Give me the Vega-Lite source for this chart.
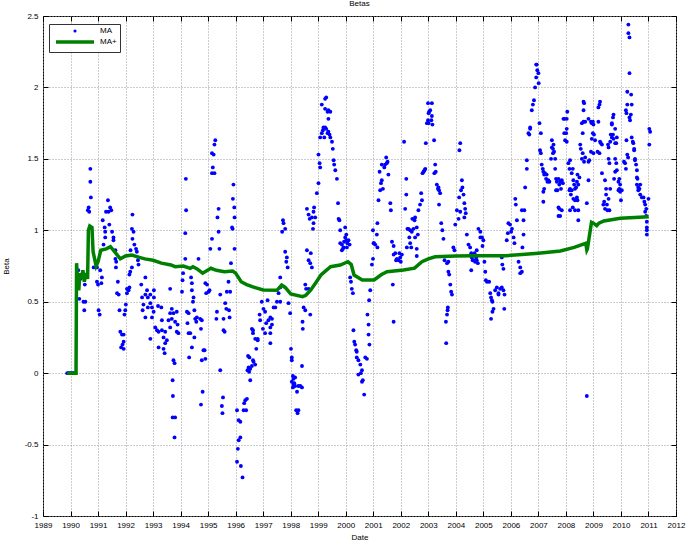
{
"$schema":"https://vega.github.io/schema/vega-lite/v6.json",
"width":633,"height":500,
"autosize":{"type":"none"},
"padding":{"left":43,"top":16,"right":11,"bottom":26},
"background":"white",
"title":{"text":"Betas","fontSize":8,"fontWeight":"normal","font":"Liberation Sans","offset":4,"color":"#000"},
"config":{
"view":{"stroke":"#000","strokeWidth":1},
"axis":{"labelFont":"Liberation Sans","labelFontSize":8,"labelColor":"#000","labelFlush":false,"labelOverlap":false,"titleFont":"Liberation Sans","titleFontSize":8,"titleFontWeight":"normal","titleColor":"#000","domain":false,"tickColor":"#000","tickSize":-5,"gridColor":"#999","gridDash":[1,2],"gridOpacity":1}
},
"datasets":{
"ma":[
{"t":1989.88,"b":0},{"t":1989.93,"b":0},{"t":1989.98,"b":0},{"t":1990.03,"b":0},{"t":1990.08,"b":0},{"t":1990.13,"b":0},{"t":1990.18,"b":0},
{"t":1990.28,"b":0.72},{"t":1990.36,"b":0.66},{"t":1990.44,"b":0.7},{"t":1990.52,"b":0.62},{"t":1990.58,"b":0.68},
{"t":1990.72,"b":1.43},{"t":1990.72,"b":1.34},{"t":1990.74,"b":1.23},{"t":1990.66,"b":1.16},{"t":1990.63,"b":1.14},{"t":1990.68,"b":1.13},
{"t":1991.36,"b":1.21},{"t":1991.44,"b":1.16},{"t":1991.38,"b":1.13},{"t":1991.29,"b":1.13},{"t":1991.48,"b":1.14},{"t":1991.17,"b":1.07},{"t":1991.24,"b":1.02},{"t":1991.41,"b":1.04},{"t":1991.26,"b":0.99},{"t":1991.51,"b":0.99},{"t":1991.56,"b":0.95},{"t":1991.56,"b":0.93},{"t":1991.26,"b":0.95},
{"t":1992.25,"b":1.11},{"t":1992.23,"b":1.01},{"t":1992.29,"b":0.99},{"t":1992.25,"b":0.94},{"t":1992.32,"b":0.9},{"t":1992.38,"b":0.87},{"t":1992.41,"b":0.85},{"t":1992.18,"b":0.86},
{"t":1991.2,"b":0.9},{"t":1991.63,"b":0.86},
{"t":1990.84,"b":0.74},{"t":1990.96,"b":0.74},{"t":1991.08,"b":0.72},{"t":1991.14,"b":0.67},{"t":1991.12,"b":0.63},{"t":1990.96,"b":0.64},{"t":1991.0,"b":0.62},
{"t":1991.72,"b":0.64},{"t":1991.69,"b":0.56},{"t":1991.75,"b":0.55},
{"t":1990.32,"b":0.52},{"t":1990.47,"b":0.5},{"t":1990.54,"b":0.5},{"t":1990.5,"b":0.44},
{"t":1991.02,"b":0.44},{"t":1991.06,"b":0.41},
{"t":1991.63,"b":0.8},{"t":1991.66,"b":0.78},{"t":1991.65,"b":0.74},
{"t":1992.05,"b":0.59},{"t":1992.05,"b":0.56},{"t":1992.11,"b":0.58},{"t":1992.14,"b":0.6},{"t":1992.17,"b":0.71},{"t":1992.23,"b":0.74},{"t":1992.14,"b":0.69},
{"t":1992.01,"b":0.48},{"t":1991.99,"b":0.44},{"t":1991.96,"b":0.41},{"t":1991.78,"b":0.44},
{"t":1991.81,"b":0.29},{"t":1991.87,"b":0.27},{"t":1991.93,"b":0.27},{"t":1991.93,"b":0.22},{"t":1991.89,"b":0.2},{"t":1991.84,"b":0.18},{"t":1991.93,"b":0.17},
{"t":1992.45,"b":0.79},{"t":1992.47,"b":0.76},
{"t":1992.57,"b":0.62},{"t":1992.72,"b":0.67},{"t":1992.78,"b":0.58},{"t":1992.72,"b":0.55},{"t":1992.6,"b":0.53},{"t":1992.81,"b":0.53},{"t":1992.9,"b":0.55},{"t":1993.03,"b":0.58},{"t":1993.03,"b":0.53},
{"t":1992.65,"b":0.48},{"t":1992.9,"b":0.49},{"t":1992.96,"b":0.46},{"t":1992.81,"b":0.46},{"t":1992.62,"b":0.44},{"t":1992.72,"b":0.39},{"t":1992.96,"b":0.39},{"t":1993.02,"b":0.43},
{"t":1993.08,"b":0.32},{"t":1993.14,"b":0.3},{"t":1993.2,"b":0.29},{"t":1993.32,"b":0.3},{"t":1993.44,"b":0.29},{"t":1993.32,"b":0.37},{"t":1993.56,"b":0.37},{"t":1993.62,"b":0.42},{"t":1993.68,"b":0.38},{"t":1993.3,"b":0.46},{"t":1993.18,"b":0.47},
{"t":1992.9,"b":0.24},{"t":1993.38,"b":0.25},{"t":1993.5,"b":0.23},{"t":1993.44,"b":0.21},{"t":1993.2,"b":0.18},{"t":1993.38,"b":0.17},{"t":1993.42,"b":0.14},
{"t":1993.74,"b":0.09},{"t":1993.78,"b":0.07},{"t":1993.71,"b":-0.05},{"t":1993.72,"b":-0.16},{"t":1993.71,"b":-0.31},{"t":1993.78,"b":-0.45},
{"t":1995.26,"b":1.63},{"t":1995.23,"b":1.6},{"t":1995.14,"b":1.54},{"t":1995.2,"b":1.53},{"t":1995.17,"b":1.44},{"t":1995.14,"b":1.4},{"t":1995.23,"b":1.4},
{"t":1994.19,"b":1.36},{"t":1994.2,"b":1.14},{"t":1994.17,"b":0.98},{"t":1994.17,"b":0.8},{"t":1994.09,"b":0.7},{"t":1994.07,"b":0.65},{"t":1994.05,"b":0.57},
{"t":1993.62,"b":0.59},{"t":1993.68,"b":0.45},{"t":1993.74,"b":0.42},{"t":1993.86,"b":0.43},{"t":1993.62,"b":0.32},{"t":1993.8,"b":0.36},{"t":1993.89,"b":0.34},{"t":1993.86,"b":0.29},{"t":1993.92,"b":0.28},
{"t":1993.8,"b":-0.31},
{"t":1994.38,"b":0.67},{"t":1994.41,"b":0.63},{"t":1994.41,"b":0.58},{"t":1994.47,"b":0.53},{"t":1994.45,"b":0.5},
{"t":1994.23,"b":0.43},{"t":1994.29,"b":0.42},{"t":1994.25,"b":0.35},{"t":1994.35,"b":0.28},{"t":1994.29,"b":0.28},{"t":1994.5,"b":0.44},{"t":1994.53,"b":0.38},{"t":1994.57,"b":0.36},{"t":1994.59,"b":0.39},{"t":1994.71,"b":0.38},{"t":1994.77,"b":0.37},{"t":1994.74,"b":0.31},{"t":1994.5,"b":0.25},{"t":1994.41,"b":0.18},{"t":1994.31,"b":0.11},
{"t":1994.65,"b":0.8},
{"t":1994.9,"b":0.63},{"t":1994.96,"b":0.62},{"t":1995.02,"b":0.57},{"t":1994.93,"b":0.56},{"t":1995.05,"b":0.58},
{"t":1994.83,"b":0.16},{"t":1994.77,"b":0.09},{"t":1994.9,"b":0.1},{"t":1994.87,"b":0.16},
{"t":1994.8,"b":-0.13},{"t":1994.74,"b":-0.22},
{"t":1995.08,"b":0.87},{"t":1995.14,"b":0.94},{"t":1995.41,"b":0.87},{"t":1995.38,"b":0.99},{"t":1995.38,"b":1.15},{"t":1995.34,"b":1.09},
{"t":1995.32,"b":0.43},{"t":1995.3,"b":0.38},{"t":1995.44,"b":0.55},{"t":1995.56,"b":0.3},{"t":1995.6,"b":0.29},{"t":1995.62,"b":0.49},{"t":1995.66,"b":0.45},{"t":1995.76,"b":0.44},{"t":1995.78,"b":0.39},{"t":1995.68,"b":0.57},{"t":1995.74,"b":0.64},{"t":1995.8,"b":0.57},{"t":1995.56,"b":0.38},
{"t":1995.44,"b":0.02},{"t":1995.54,"b":-0.17},{"t":1995.5,"b":-0.23},{"t":1995.52,"b":-0.28},
{"t":1995.92,"b":1.32},{"t":1995.9,"b":1.22},{"t":1995.95,"b":1.16},{"t":1995.96,"b":1.09},{"t":1995.87,"b":1.02},{"t":1995.89,"b":1.01},{"t":1995.96,"b":0.87},{"t":1995.83,"b":0.77},
{"t":1996.05,"b":-0.26},{"t":1996.11,"b":-0.33},{"t":1996.17,"b":-0.34},{"t":1996.29,"b":-0.26},{"t":1996.35,"b":-0.19},{"t":1996.41,"b":-0.18},{"t":1996.31,"b":-0.21},{"t":1996.38,"b":-0.26},
{"t":1996.17,"b":-0.45},{"t":1996.11,"b":-0.47},{"t":1996.08,"b":-0.53},{"t":1996.05,"b":-0.62},{"t":1996.19,"b":-0.65},{"t":1996.25,"b":-0.73},
{"t":1996.45,"b":0.12},{"t":1996.5,"b":0.11},{"t":1996.47,"b":0.04},{"t":1996.53,"b":0.03},{"t":1996.43,"b":0.02},{"t":1996.49,"b":0.01},{"t":1996.59,"b":0.05},{"t":1996.65,"b":0.08},{"t":1996.71,"b":0.06},{"t":1996.63,"b":0.09},{"t":1996.53,"b":-0.05},
{"t":1996.59,"b":0.31},{"t":1996.63,"b":0.28},{"t":1996.71,"b":0.24},{"t":1996.8,"b":0.23},{"t":1996.75,"b":0.17},{"t":1996.8,"b":0.24},{"t":1996.63,"b":0.3},
{"t":1996.87,"b":0.41},{"t":1996.89,"b":0.37},{"t":1996.95,"b":0.5},{"t":1997.01,"b":0.45},{"t":1997.07,"b":0.43},{"t":1997.16,"b":0.51},{"t":1996.99,"b":0.31},{"t":1997.07,"b":0.28},{"t":1997.11,"b":0.35},{"t":1997.19,"b":0.37},{"t":1997.26,"b":0.32},{"t":1997.26,"b":0.39},{"t":1997.32,"b":0.38},{"t":1997.32,"b":0.34},{"t":1997.38,"b":0.46},{"t":1997.44,"b":0.46},{"t":1997.5,"b":0.5},{"t":1997.56,"b":0.56},{"t":1997.62,"b":0.5},{"t":1997.62,"b":0.6},{"t":1997.62,"b":0.67},{"t":1997.26,"b":0.21},{"t":1997.26,"b":0.28},
{"t":1997.72,"b":1.07},{"t":1997.74,"b":1.05},{"t":1997.69,"b":0.99},{"t":1997.8,"b":1.01},{"t":1997.8,"b":0.85},{"t":1997.86,"b":0.81},{"t":1997.89,"b":0.74},{"t":1997.84,"b":0.78},
{"t":1997.92,"b":0.49},{"t":1998.01,"b":0.17},{"t":1998.04,"b":0.11},{"t":1998.08,"b":-0.02},{"t":1998.1,"b":-0.04},{"t":1998.13,"b":-0.07},{"t":1998.08,"b":-0.1},
{"t":1997.98,"b":0.42},{"t":1998.04,"b":0.09},{"t":1998.16,"b":-0.03},{"t":1998.04,"b":-0.06},{"t":1998.1,"b":-0.08},{"t":1998.16,"b":-0.09},{"t":1998.23,"b":-0.13},{"t":1998.28,"b":-0.09},{"t":1998.35,"b":-0.09},{"t":1998.41,"b":-0.1},{"t":1998.2,"b":-0.26},{"t":1998.25,"b":-0.28},{"t":1998.28,"b":-0.26},{"t":1998.41,"b":0.05},
{"t":1998.47,"b":0.46},{"t":1998.53,"b":0.44},{"t":1998.43,"b":0.36},{"t":1998.44,"b":0.31},{"t":1998.71,"b":0.41},
{"t":1998.53,"b":0.62},{"t":1998.56,"b":0.59},{"t":1998.65,"b":0.59},
{"t":1998.59,"b":0.86},{"t":1998.65,"b":0.79},{"t":1998.71,"b":0.77},{"t":1998.77,"b":0.74},{"t":1998.73,"b":0.84},
{"t":1998.59,"b":1.15},{"t":1998.65,"b":1.11},{"t":1998.69,"b":1.08},{"t":1998.77,"b":1.09},{"t":1998.83,"b":1.13},{"t":1998.85,"b":1.16},{"t":1998.89,"b":1.09},{"t":1998.83,"b":1.05},{"t":1998.81,"b":1.01},
{"t":1998.95,"b":1.26},{"t":1999.01,"b":1.33},{"t":1999.07,"b":1.44},{"t":1999.05,"b":1.47},{"t":1999.01,"b":1.53},
{"t":1999.07,"b":1.65},{"t":1999.13,"b":1.68},{"t":1999.17,"b":1.7},{"t":1999.19,"b":1.72},{"t":1999.25,"b":1.72},{"t":1999.29,"b":1.71},{"t":1999.22,"b":1.65},{"t":1999.34,"b":1.68},{"t":1999.44,"b":1.65},{"t":1999.37,"b":1.69},{"t":1999.41,"b":1.67},{"t":1999.5,"b":1.62},{"t":1999.37,"b":1.78},{"t":1999.37,"b":1.84},{"t":1999.34,"b":1.83},{"t":1999.13,"b":1.88},{"t":1999.25,"b":1.92},{"t":1999.29,"b":1.93},{"t":1999.25,"b":1.85},{"t":1999.44,"b":1.83},
{"t":1999.53,"b":1.57},{"t":1999.56,"b":1.49},{"t":1999.58,"b":1.46},{"t":1999.62,"b":1.42},{"t":1999.68,"b":1.36},
{"t":1999.72,"b":1.19},{"t":1999.74,"b":1.08},{"t":1999.77,"b":1.07},{"t":1999.8,"b":1.0},
{"t":1999.8,"b":0.91},{"t":1999.86,"b":0.9},{"t":1999.9,"b":0.87},{"t":1999.92,"b":0.88},{"t":1999.86,"b":0.86},{"t":1999.94,"b":0.92},{"t":1999.98,"b":0.95},{"t":2000.02,"b":0.93},{"t":2000.04,"b":0.88},{"t":2000.06,"b":0.91},{"t":2000.1,"b":0.93},{"t":2000.02,"b":0.97},{"t":2000.14,"b":0.9},{"t":1999.98,"b":1.02},
{"t":2000.16,"b":0.67},{"t":2000.19,"b":0.64},{"t":2000.22,"b":0.59},{"t":2000.26,"b":0.56},
{"t":2000.28,"b":0.3},{"t":2000.31,"b":0.22},{"t":2000.34,"b":0.2},{"t":2000.38,"b":0.16},{"t":2000.4,"b":0.15},{"t":2000.4,"b":0.11},{"t":2000.46,"b":0.09},{"t":2000.53,"b":0.06},{"t":2000.55,"b":0.0},{"t":2000.59,"b":0.02},{"t":2000.46,"b":-0.01},{"t":2000.62,"b":-0.05},{"t":2000.59,"b":-0.06},{"t":2000.67,"b":-0.15},
{"t":2000.79,"b":0.41},{"t":2000.83,"b":0.34},{"t":2000.83,"b":0.27},{"t":2000.86,"b":0.2},{"t":2000.77,"b":0.1},{"t":2000.71,"b":0.11},{"t":2000.85,"b":0.51},{"t":2000.89,"b":0.58},
{"t":2000.95,"b":0.76},{"t":2000.99,"b":0.8},{"t":2001.01,"b":0.91},{"t":2001.07,"b":0.9},{"t":2001.15,"b":0.88},{"t":2001.13,"b":0.97},{"t":2001.03,"b":0.91},{"t":2000.99,"b":1.0},{"t":2001.15,"b":1.05},
{"t":2001.19,"b":1.21},{"t":2001.25,"b":1.28},{"t":2001.28,"b":1.33},{"t":2001.35,"b":1.29},{"t":2001.31,"b":1.35},{"t":2001.23,"b":1.41},{"t":2001.31,"b":1.46},{"t":2001.43,"b":1.46},{"t":2001.49,"b":1.47},{"t":2001.52,"b":1.48},{"t":2001.47,"b":1.51},{"t":2001.4,"b":1.44},
{"t":2001.55,"b":1.39},{"t":2001.62,"b":1.19},{"t":2001.64,"b":1.14},
{"t":2001.68,"b":0.92},{"t":2001.74,"b":0.89},{"t":2001.74,"b":0.83},{"t":2001.83,"b":0.79},{"t":2001.8,"b":0.84},{"t":2001.86,"b":0.8},{"t":2001.92,"b":0.79},{"t":2001.98,"b":0.81},{"t":2002.0,"b":0.78},{"t":2001.95,"b":0.84},{"t":2002.04,"b":0.83},
{"t":2001.71,"b":0.62},{"t":2001.74,"b":0.36},
{"t":2002.12,"b":1.62},{"t":2002.2,"b":1.36},{"t":2002.2,"b":1.25},{"t":2002.16,"b":1.15},{"t":2002.24,"b":1.01},{"t":2002.31,"b":0.95},{"t":2002.22,"b":0.88},
{"t":2002.28,"b":1.01},{"t":2002.34,"b":1.0},{"t":2002.4,"b":0.99},{"t":2002.46,"b":1.01},{"t":2002.5,"b":1.07},{"t":2002.42,"b":1.08},{"t":2002.52,"b":1.09},{"t":2002.58,"b":1.02},{"t":2002.62,"b":0.97},{"t":2002.52,"b":0.95},{"t":2002.34,"b":0.91},{"t":2002.38,"b":0.88},{"t":2002.58,"b":0.87},{"t":2002.64,"b":1.14},{"t":2002.7,"b":1.18},{"t":2002.77,"b":1.21},{"t":2002.74,"b":1.26},{"t":2002.58,"b":0.82},
{"t":2002.83,"b":1.41},{"t":2002.86,"b":1.42},{"t":2002.89,"b":1.43},{"t":2002.79,"b":1.4},{"t":2002.91,"b":1.61},
{"t":2002.95,"b":1.75},{"t":2002.99,"b":1.77},{"t":2003.01,"b":1.82},{"t":2003.07,"b":1.84},{"t":2003.03,"b":1.83},{"t":2003.13,"b":1.8},{"t":2003.11,"b":1.77},{"t":2003.15,"b":1.74},{"t":2003.01,"b":1.75},{"t":2002.99,"b":1.89},{"t":2003.13,"b":1.89},
{"t":2003.21,"b":1.63},{"t":2003.22,"b":1.4},{"t":2003.27,"b":1.41},{"t":2003.25,"b":1.46},
{"t":2003.31,"b":1.32},{"t":2003.35,"b":1.29},{"t":2003.39,"b":1.28},{"t":2003.43,"b":1.26},{"t":2003.37,"b":1.3},{"t":2003.39,"b":1.18},
{"t":2003.47,"b":1.05},{"t":2003.51,"b":1.0},{"t":2003.55,"b":0.94},
{"t":2003.59,"b":0.79},{"t":2003.68,"b":0.77},{"t":2003.73,"b":0.71},{"t":2003.76,"b":0.69},{"t":2003.8,"b":0.62},{"t":2003.83,"b":0.57},{"t":2003.86,"b":0.55},{"t":2003.73,"b":0.78},
{"t":2003.71,"b":0.46},{"t":2003.7,"b":0.44},{"t":2003.68,"b":0.41},{"t":2003.64,"b":0.36},{"t":2003.65,"b":0.21},
{"t":2003.91,"b":0.88},{"t":2003.95,"b":0.86},{"t":2003.98,"b":1.04},{"t":2004.1,"b":1.08},{"t":2004.04,"b":1.14},{"t":2004.16,"b":1.13},{"t":2004.12,"b":1.23},{"t":2004.22,"b":1.35},{"t":2004.19,"b":1.28},{"t":2004.24,"b":1.3},{"t":2004.28,"b":1.25},{"t":2004.31,"b":1.19},{"t":2004.34,"b":1.15},{"t":2004.36,"b":1.12},{"t":2004.31,"b":1.09},
{"t":2004.16,"b":1.61},{"t":2004.13,"b":1.56},
{"t":2004.4,"b":0.97},{"t":2004.46,"b":0.9},{"t":2004.52,"b":0.88},{"t":2004.56,"b":0.84},{"t":2004.58,"b":0.81},{"t":2004.64,"b":0.79},{"t":2004.7,"b":0.78},{"t":2004.76,"b":0.79},{"t":2004.74,"b":0.81},{"t":2004.68,"b":0.84},{"t":2004.61,"b":0.79},{"t":2004.8,"b":0.77},{"t":2004.76,"b":0.86},{"t":2004.56,"b":0.72},
{"t":2004.82,"b":1.01},{"t":2004.89,"b":0.95},{"t":2004.95,"b":0.95},{"t":2005.0,"b":0.93},{"t":2004.97,"b":0.89},{"t":2004.89,"b":0.99},
{"t":2005.04,"b":0.78},{"t":2005.07,"b":0.71},{"t":2005.09,"b":0.65},{"t":2005.13,"b":0.64},{"t":2005.21,"b":0.64},
{"t":2005.25,"b":0.56},{"t":2005.28,"b":0.53},{"t":2005.31,"b":0.51},{"t":2005.33,"b":0.5},{"t":2005.37,"b":0.45},{"t":2005.33,"b":0.43},{"t":2005.28,"b":0.38},{"t":2005.43,"b":0.58},{"t":2005.49,"b":0.6},{"t":2005.55,"b":0.56},{"t":2005.61,"b":0.59},{"t":2005.55,"b":0.55},{"t":2005.67,"b":0.6},{"t":2005.73,"b":0.58},{"t":2005.77,"b":0.55},{"t":2005.76,"b":0.45},
{"t":2005.67,"b":0.81},{"t":2005.69,"b":0.76},{"t":2005.73,"b":0.73},
{"t":2005.85,"b":0.93},{"t":2005.89,"b":0.98},{"t":2005.91,"b":1.05},{"t":2005.97,"b":1.04},{"t":2006.04,"b":1.01},{"t":2006.1,"b":0.95},{"t":2006.13,"b":0.91},{"t":2006.01,"b":0.99},
{"t":2006.16,"b":1.22},{"t":2006.18,"b":1.18},{"t":2006.22,"b":1.07},
{"t":2006.28,"b":0.78},{"t":2006.34,"b":0.74},{"t":2006.34,"b":0.7},{"t":2006.4,"b":0.71},
{"t":2006.4,"b":1.14},{"t":2006.46,"b":1.07},{"t":2006.46,"b":0.97},{"t":2006.42,"b":0.88},
{"t":2006.52,"b":1.3},{"t":2006.58,"b":1.49},{"t":2006.64,"b":1.68},{"t":2006.67,"b":1.67},{"t":2006.7,"b":1.72},
{"t":2006.49,"b":1.14},{"t":2006.58,"b":1.43},{"t":2006.7,"b":1.71},{"t":2006.76,"b":1.84},{"t":2006.8,"b":1.88},{"t":2006.84,"b":1.91},{"t":2006.88,"b":2.0},{"t":2006.92,"b":2.07},{"t":2006.94,"b":2.16},{"t":2006.96,"b":2.12},{"t":2007.0,"b":2.1},{"t":2007.01,"b":2.03},{"t":2006.92,"b":2.16},
{"t":2007.04,"b":1.75},{"t":2007.09,"b":1.68},{"t":2007.06,"b":1.56},{"t":2007.09,"b":1.54},{"t":2007.12,"b":1.46},{"t":2007.16,"b":1.43},{"t":2007.18,"b":1.41},{"t":2007.21,"b":1.39},{"t":2007.24,"b":1.4},{"t":2007.3,"b":1.39},{"t":2007.28,"b":1.36},{"t":2007.33,"b":1.34},{"t":2007.36,"b":1.35},{"t":2007.4,"b":1.34},{"t":2007.21,"b":1.29},{"t":2007.18,"b":1.27},{"t":2007.18,"b":1.2},
{"t":2007.49,"b":1.58},{"t":2007.49,"b":1.63},{"t":2007.53,"b":1.57},{"t":2007.55,"b":1.6},{"t":2007.57,"b":1.55},{"t":2007.61,"b":1.5},{"t":2007.53,"b":1.54},{"t":2007.46,"b":1.5},{"t":2007.61,"b":1.43},{"t":2007.64,"b":1.36},{"t":2007.67,"b":1.34},{"t":2007.73,"b":1.36},{"t":2007.79,"b":1.34},{"t":2007.76,"b":1.32},{"t":2007.85,"b":1.35},{"t":2007.89,"b":1.33},{"t":2007.82,"b":1.29},{"t":2007.69,"b":1.28},{"t":2007.64,"b":1.28},
{"t":2007.73,"b":1.16},{"t":2007.76,"b":1.15},{"t":2007.85,"b":1.14},{"t":2007.73,"b":1.1},{"t":2007.79,"b":1.1},
{"t":2007.91,"b":1.78},{"t":2007.95,"b":1.78},{"t":2008.03,"b":1.78},{"t":2008.05,"b":1.83},{"t":2008.03,"b":1.71},{"t":2008.01,"b":1.68},{"t":2007.94,"b":1.68},{"t":2007.97,"b":1.63},{"t":2008.03,"b":1.62},
{"t":2008.09,"b":1.47},{"t":2008.15,"b":1.49},{"t":2008.13,"b":1.43},{"t":2008.21,"b":1.4},{"t":2008.25,"b":1.43},{"t":2008.15,"b":1.29},{"t":2008.21,"b":1.28},{"t":2008.18,"b":1.25},{"t":2008.13,"b":1.28},{"t":2008.27,"b":1.35},{"t":2008.3,"b":1.32},{"t":2008.33,"b":1.29},{"t":2008.37,"b":1.3},{"t":2008.4,"b":1.34},{"t":2008.42,"b":1.39},{"t":2008.49,"b":1.37},{"t":2008.45,"b":1.32},{"t":2008.4,"b":1.23},{"t":2008.42,"b":1.21},{"t":2008.33,"b":1.21},{"t":2008.27,"b":1.22},{"t":2008.25,"b":1.16},{"t":2008.15,"b":1.14},{"t":2008.33,"b":1.14},{"t":2008.45,"b":1.14},{"t":2008.45,"b":1.07},
{"t":2008.52,"b":1.6},{"t":2008.54,"b":1.57},{"t":2008.58,"b":1.75},{"t":2008.64,"b":1.84},{"t":2008.66,"b":1.89},{"t":2008.64,"b":1.76},{"t":2008.7,"b":1.76},{"t":2008.61,"b":1.68},{"t":2008.64,"b":1.9},
{"t":2008.58,"b":1.5},{"t":2008.61,"b":1.54},{"t":2008.66,"b":1.48},{"t":2008.7,"b":1.51},
{"t":2008.76,"b":1.19},{"t":2008.82,"b":1.35},{"t":2008.82,"b":1.48},{"t":2008.85,"b":1.49},{"t":2008.91,"b":1.76},{"t":2008.94,"b":1.75},{"t":2008.98,"b":1.76},{"t":2009.0,"b":1.74},{"t":2008.98,"b":1.68},{"t":2008.94,"b":1.64},{"t":2009.02,"b":1.67},{"t":2009.06,"b":1.63},{"t":2009.0,"b":1.54},{"t":2008.91,"b":1.55},{"t":2008.82,"b":1.78},
{"t":2008.76,"b":-0.16},
{"t":2009.15,"b":1.55},{"t":2009.18,"b":1.76},{"t":2009.22,"b":1.88},{"t":2009.24,"b":1.9},{"t":2009.18,"b":1.86},{"t":2009.24,"b":1.62},{"t":2009.27,"b":1.61},{"t":2009.31,"b":1.6},{"t":2009.22,"b":1.54},
{"t":2009.31,"b":1.4},{"t":2009.42,"b":1.35},{"t":2009.46,"b":1.29},{"t":2009.46,"b":1.25},{"t":2009.49,"b":1.18},{"t":2009.39,"b":1.2},{"t":2009.36,"b":1.18},{"t":2009.42,"b":1.15},{"t":2009.51,"b":1.14},{"t":2009.55,"b":1.22},{"t":2009.58,"b":1.14},{"t":2009.61,"b":1.29},{"t":2009.55,"b":1.58},{"t":2009.53,"b":1.6},{"t":2009.55,"b":1.5},{"t":2009.58,"b":1.47},
{"t":2009.61,"b":1.62},{"t":2009.63,"b":1.67},{"t":2009.67,"b":1.65},{"t":2009.71,"b":1.67},{"t":2009.73,"b":1.64},{"t":2009.67,"b":1.74},{"t":2009.71,"b":1.79},{"t":2009.73,"b":1.81},{"t":2009.67,"b":1.75},{"t":2009.79,"b":1.61},{"t":2009.83,"b":1.61},{"t":2009.85,"b":1.65},{"t":2009.79,"b":1.71},
{"t":2009.79,"b":1.5},{"t":2009.83,"b":1.47},{"t":2009.85,"b":1.42},{"t":2009.79,"b":1.41},{"t":2009.75,"b":1.36},{"t":2009.91,"b":1.34},{"t":2009.94,"b":1.29},{"t":2009.97,"b":1.27},{"t":2009.91,"b":1.28},{"t":2010.03,"b":1.28},{"t":2010.0,"b":1.21},{"t":2009.94,"b":1.36},{"t":2009.97,"b":1.32},
{"t":2010.11,"b":1.48},{"t":2010.15,"b":1.47},{"t":2010.18,"b":1.43},{"t":2010.23,"b":1.53},{"t":2010.26,"b":1.51},{"t":2010.2,"b":1.63},
{"t":2010.2,"b":1.82},{"t":2010.18,"b":1.84},{"t":2010.23,"b":1.88},{"t":2010.23,"b":1.97},{"t":2010.31,"b":1.79},{"t":2010.36,"b":1.81},{"t":2010.33,"b":1.77},{"t":2010.39,"b":1.88},{"t":2010.37,"b":1.95},
{"t":2010.27,"b":2.44},{"t":2010.27,"b":2.38},{"t":2010.31,"b":2.35},{"t":2010.31,"b":2.1},
{"t":2010.39,"b":1.65},{"t":2010.43,"b":1.62},{"t":2010.45,"b":1.61},{"t":2010.48,"b":1.57},{"t":2010.48,"b":1.56},{"t":2010.51,"b":1.5},{"t":2010.51,"b":1.49},{"t":2010.55,"b":1.46},{"t":2010.58,"b":1.42},{"t":2010.58,"b":1.37},{"t":2010.6,"b":1.36},{"t":2010.58,"b":1.32},{"t":2010.63,"b":1.3},{"t":2010.7,"b":1.32},{"t":2010.67,"b":1.29},{"t":2010.63,"b":1.28},{"t":2010.7,"b":1.25},{"t":2010.76,"b":1.23},{"t":2010.82,"b":1.23},{"t":2010.85,"b":1.2},{"t":2010.88,"b":1.18},{"t":2010.92,"b":1.15},{"t":2010.88,"b":1.13},{"t":2010.92,"b":1.1},{"t":2010.94,"b":1.06},{"t":2010.94,"b":1.02},{"t":2010.94,"b":1.0},{"t":2010.94,"b":0.97},{"t":2011.0,"b":1.22},
{"t":2011.03,"b":1.71},{"t":2011.06,"b":1.69},{"t":2011.03,"b":1.6}
],
"maplus":[
{"t":1989.88,"b":0},{"t":1990.2,"b":0},{"t":1990.22,"b":0.77},{"t":1990.26,"b":0.62},{"t":1990.3,"b":0.58},{"t":1990.34,"b":0.7},{"t":1990.4,"b":0.66},{"t":1990.45,"b":0.72},{"t":1990.5,"b":0.64},{"t":1990.56,"b":0.7},{"t":1990.62,"b":0.66},{"t":1990.65,"b":1.0},{"t":1990.7,"b":1.03},{"t":1990.78,"b":1.02},{"t":1990.82,"b":0.85},{"t":1990.93,"b":0.75},{"t":1991.0,"b":0.78},{"t":1991.1,"b":0.86},{"t":1991.3,"b":0.87},{"t":1991.45,"b":0.885},{"t":1991.6,"b":0.85},{"t":1991.81,"b":0.8},{"t":1992.0,"b":0.82},{"t":1992.23,"b":0.827},{"t":1992.5,"b":0.81},{"t":1992.7,"b":0.8},{"t":1993.0,"b":0.79},{"t":1993.3,"b":0.77},{"t":1993.65,"b":0.757},{"t":1993.8,"b":0.745},{"t":1994.1,"b":0.75},{"t":1994.35,"b":0.734},{"t":1994.45,"b":0.745},{"t":1994.6,"b":0.73},{"t":1994.8,"b":0.7},{"t":1995.1,"b":0.734},{"t":1995.3,"b":0.72},{"t":1995.59,"b":0.71},{"t":1995.89,"b":0.715},{"t":1996.0,"b":0.7},{"t":1996.2,"b":0.64},{"t":1996.4,"b":0.62},{"t":1996.6,"b":0.605},{"t":1997.0,"b":0.582},{"t":1997.5,"b":0.58},{"t":1997.67,"b":0.617},{"t":1997.8,"b":0.6},{"t":1998.0,"b":0.555},{"t":1998.43,"b":0.535},{"t":1998.55,"b":0.545},{"t":1998.73,"b":0.582},{"t":1998.9,"b":0.63},{"t":1999.1,"b":0.687},{"t":1999.45,"b":0.745},{"t":1999.8,"b":0.757},{"t":2000.08,"b":0.78},{"t":2000.2,"b":0.76},{"t":2000.3,"b":0.687},{"t":2000.6,"b":0.652},{"t":2001.03,"b":0.652},{"t":2001.3,"b":0.69},{"t":2001.5,"b":0.71},{"t":2002.1,"b":0.722},{"t":2002.5,"b":0.735},{"t":2002.77,"b":0.78},{"t":2003.0,"b":0.8},{"t":2003.25,"b":0.815},{"t":2004.0,"b":0.82},{"t":2004.6,"b":0.822},{"t":2005.8,"b":0.822},{"t":2006.4,"b":0.83},{"t":2007.0,"b":0.84},{"t":2007.8,"b":0.855},{"t":2008.3,"b":0.88},{"t":2008.72,"b":0.909},{"t":2008.76,"b":0.862},{"t":2008.78,"b":0.87},{"t":2008.93,"b":1.056},{"t":2009.0,"b":1.05},{"t":2009.12,"b":1.032},{"t":2009.2,"b":1.05},{"t":2009.38,"b":1.065},{"t":2009.98,"b":1.084},{"t":2010.5,"b":1.09},{"t":2011.01,"b":1.095}
]
},
"layer":[
{
"data":{"name":"ma"},
"mark":{"type":"point","filled":true,"shape":"circle","size":15,"opacity":1},
"encoding":{
"x":{"field":"t","type":"quantitative","scale":{"domain":[1989,2012],"nice":false,"zero":false},
"axis":{"orient":"bottom","values":[1989,1990,1991,1992,1993,1994,1995,1996,1997,1998,1999,2000,2001,2002,2003,2004,2005,2006,2007,2008,2009,2010,2011,2012],"labelExpr":"'' + datum.value","title":"Date","grid":true,"labelPadding":10,"titlePadding":4}},
"y":{"field":"b","type":"quantitative","scale":{"domain":[-1,2.5],"nice":false,"zero":false},
"axis":{"orient":"left","values":[-1,-0.5,0,0.5,1,1.5,2,2.5],"labelExpr":"'' + datum.value","title":"Beta","grid":true,"labelPadding":10,"titlePadding":14}},
"color":{"datum":"MA","scale":{"domain":["MA","MA+"],"range":["#0000ff","#008000"]},
"legend":{"orient":"none","legendX":6,"legendY":8,"title":null,"padding":3,"strokeColor":"#333","fillColor":"#fff","labelFont":"Liberation Sans","labelFontSize":8,"labelColor":"#000","labelOffset":21,"symbolOffset":19,"rowPadding":0,"symbolSize":100,
"encode":{"symbols":{"update":{"shape":{"signal":"datum.value === 'MA' ? 'circle' : 'stroke'"},"size":{"signal":"datum.value === 'MA' ? 10 : 1444"},"strokeWidth":{"signal":"datum.value === 'MA' ? 0 : 3.5"},"stroke":{"signal":"datum.value === 'MA' ? '#0000ff' : '#008000'"},"fill":{"signal":"datum.value === 'MA' ? '#0000ff' : 'transparent'"},"opacity":{"value":1}}}}}}
}
},
{
"data":{"name":"maplus"},
"mark":{"type":"line","strokeWidth":3.5},
"encoding":{
"x":{"field":"t","type":"quantitative","axis":{"orient":"top","values":[1989,1990,1991,1992,1993,1994,1995,1996,1997,1998,1999,2000,2001,2002,2003,2004,2005,2006,2007,2008,2009,2010,2011,2012],"labels":false,"title":null,"grid":false}},
"y":{"field":"b","type":"quantitative","axis":{"orient":"right","values":[-1,-0.5,0,0.5,1,1.5,2,2.5],"labels":false,"title":null,"grid":false}},
"color":{"datum":"MA+",
"legend":{"orient":"none","legendX":6,"legendY":8,"title":null,"padding":3,"strokeColor":"#333","fillColor":"#fff","labelFont":"Liberation Sans","labelFontSize":8,"labelColor":"#000","labelOffset":21,"symbolOffset":19,"rowPadding":0,"symbolSize":100,
"encode":{"symbols":{"update":{"shape":{"signal":"datum.value === 'MA' ? 'circle' : 'stroke'"},"size":{"signal":"datum.value === 'MA' ? 10 : 1444"},"strokeWidth":{"signal":"datum.value === 'MA' ? 0 : 3.5"},"stroke":{"signal":"datum.value === 'MA' ? '#0000ff' : '#008000'"},"fill":{"signal":"datum.value === 'MA' ? '#0000ff' : 'transparent'"},"opacity":{"value":1}}}}}}
}
}
],
"resolve":{"axis":{"x":"independent","y":"independent"}}
}
